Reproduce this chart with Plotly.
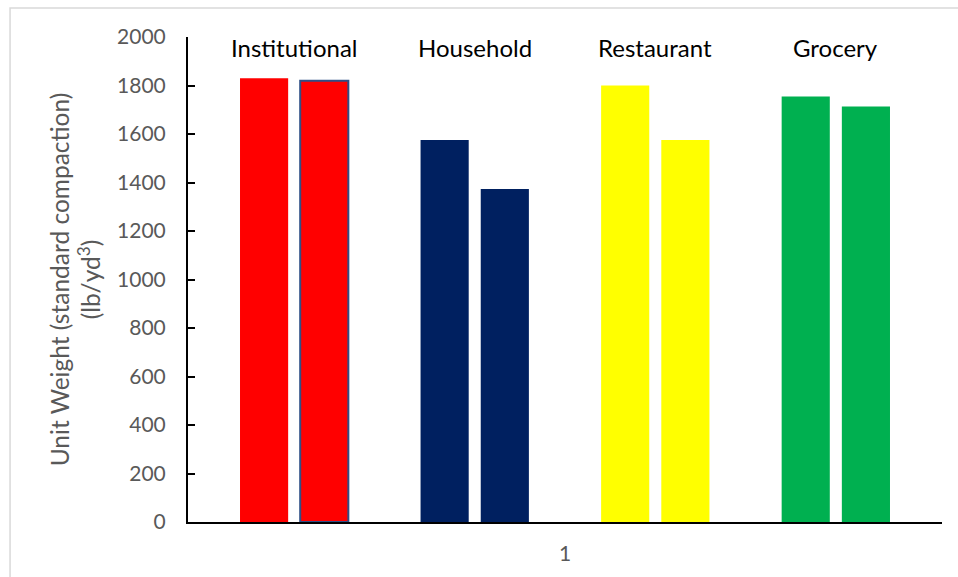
import plotly.graph_objects as go

# Unit weight after standard compaction, two samples per waste source
sources = ["Institutional", "Household", "Restaurant", "Grocery"]
sample_a = [1830, 1575, 1800, 1755]
sample_b = [1820, 1373, 1575, 1713]
source_colors = ["#FF0000", "#002060", "#FFFF00", "#00B050"]
category = ["1"]
y_ticks = [0, 200, 400, 600, 800, 1000, 1200, 1400, 1600, 1800, 2000]

BARGAP = 0.122
BARGROUPGAP = 0.2
FONT = "Lato"

fig = go.Figure()

# Series order: pairs separated by an empty slot so the groups read apart
n_slots = 0
pair_slots = []
for i, (name, a, b, col) in enumerate(zip(sources, sample_a, sample_b, source_colors)):
    line_a = dict(width=0)
    line_b = dict(width=2, color="#2F4F86") if i == 0 else dict(width=0)
    fig.add_trace(go.Bar(x=category, y=[a], name=f"{name} A",
                         marker=dict(color=col, line=line_a)))
    fig.add_trace(go.Bar(x=category, y=[b], name=f"{name} B",
                         marker=dict(color=col, line=line_b)))
    pair_slots.append((n_slots, n_slots + 1))
    n_slots += 2
    if i < len(sources) - 1:
        fig.add_trace(go.Bar(x=category, y=[None], showlegend=False,
                             hoverinfo="skip", marker=dict(line=dict(width=0))))
        n_slots += 1

# Group labels above each pair, centred on the pair
slot_w = (1 - BARGAP) / n_slots
start = -0.5 + BARGAP / 2
for name, (s0, s1) in zip(sources, pair_slots):
    xc = start + (s0 + s1 + 1) / 2 * slot_w
    fig.add_annotation(x=xc, y=1955, xref="x", yref="y", text=name,
                       showarrow=False, xanchor="center", yanchor="middle",
                       font=dict(family=FONT, size=24, color="#000000"))

# Light outer frame of the chart area
fig.add_shape(type="rect", xref="paper", yref="paper",
              x0=-0.236, x1=1.2, y0=-0.3, y1=1.06,
              line=dict(color="#D9D9D9", width=1.5), layer="below")

fig.update_layout(
    width=958, height=577,
    margin=dict(l=188, r=16, t=37, b=55),
    barmode="group", bargap=BARGAP, bargroupgap=BARGROUPGAP,
    plot_bgcolor="white", paper_bgcolor="white",
    showlegend=False,
    font=dict(family=FONT, color="#595959"),
)
fig.update_xaxes(
    type="category", range=[-0.5, 0.5],
    showline=True, linecolor="#000000", linewidth=2,
    ticks="", showgrid=False, ticklabelstandoff=12,
    tickfont=dict(family=FONT, size=21, color="#595959"),
)
fig.update_yaxes(
    range=[0, 2000], tickvals=y_ticks,
    showline=True, linecolor="#000000", linewidth=2,
    ticks="inside", ticklen=7, tickwidth=2, tickcolor="#000000",
    ticklabelstandoff=16,
    showgrid=False, zeroline=False,
    tickfont=dict(family=FONT, size=21, color="#595959"),
    title=dict(text="Unit Weight (standard compaction)<br>(lb/yd<sup>3</sup>)",
               font=dict(family=FONT, size=24.5, color="#595959"), standoff=9),
)

fig.write_html("out.html")
